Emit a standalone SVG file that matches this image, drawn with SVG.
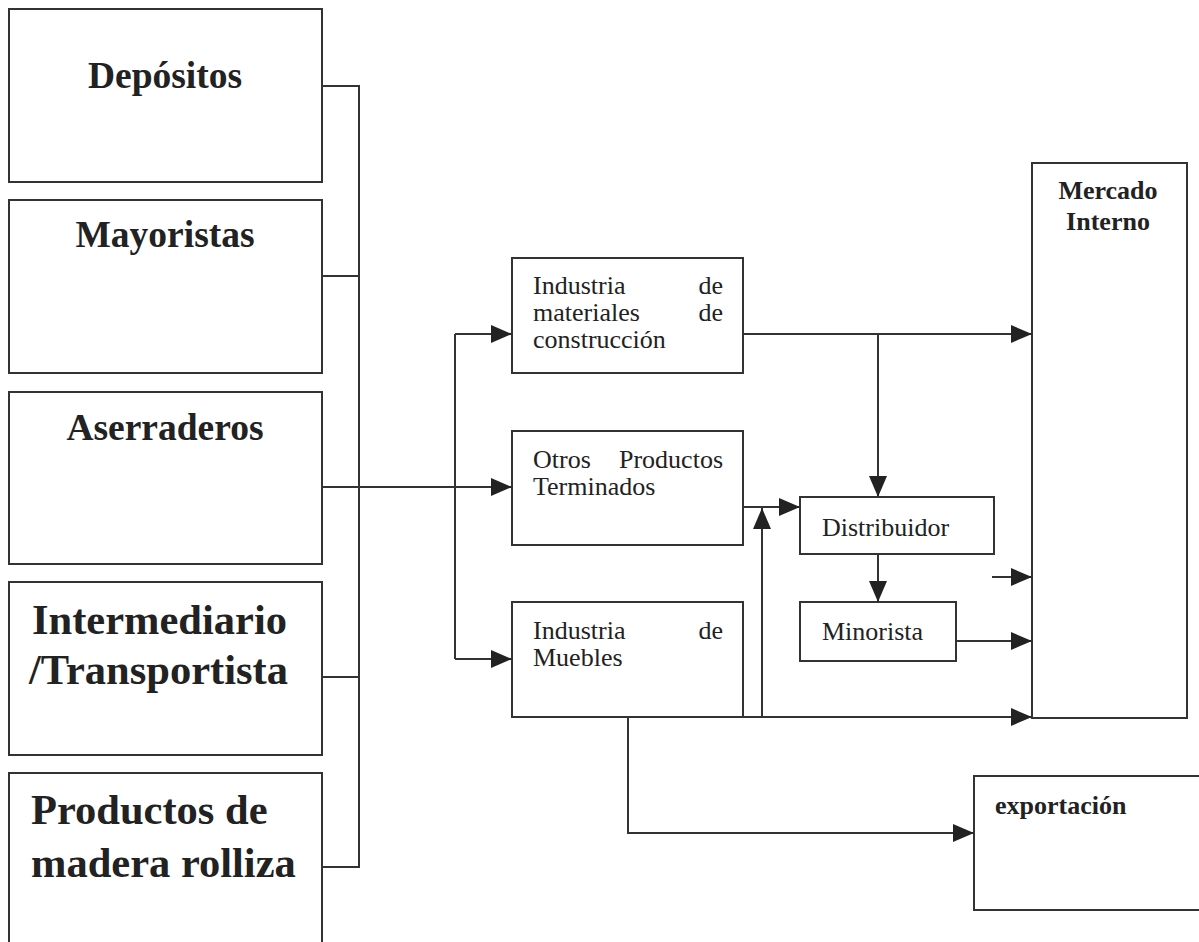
<svg xmlns="http://www.w3.org/2000/svg" width="1199" height="942" viewBox="0 0 1199 942">
<defs>
<style>
.box{fill:#fff;stroke:#333;stroke-width:2}
.ln{fill:none;stroke:#333;stroke-width:2}
.big{font-family:"Liberation Serif","Times New Roman",serif;font-weight:bold;fill:#222}
.reg{font-family:"Liberation Serif","Times New Roman",serif;font-size:26px;fill:#222}
.mid{font-family:"Liberation Serif","Times New Roman",serif;font-weight:bold;font-size:26px;fill:#222}
</style>
<marker id="ah" markerUnits="userSpaceOnUse" markerWidth="21" markerHeight="18" refX="21" refY="9" orient="auto">
<path d="M0,0 L21,9 L0,18 z" fill="#222"/>
</marker>
</defs>
<rect width="1199" height="942" fill="#fff"/>

<g id="depositos">
<rect class="box" x="9" y="9" width="313" height="173"/>
<text class="big" x="165" y="88" font-size="37.5" text-anchor="middle">Depósitos</text>
</g>
<g id="mayoristas">
<rect class="box" x="9" y="200" width="313" height="173"/>
<text class="big" x="165" y="247" font-size="37.5" text-anchor="middle">Mayoristas</text>
</g>
<g id="aserraderos">
<rect class="box" x="9" y="392" width="313" height="172"/>
<text class="big" x="165" y="440" font-size="37.5" text-anchor="middle">Aserraderos</text>
</g>
<g id="intermediario">
<rect class="box" x="9" y="582" width="313" height="173"/>
<text class="big" font-size="42.5"><tspan x="32" y="634">Intermediario</tspan><tspan x="29" y="684">/Transportista</tspan></text>
</g>
<g id="productos">
<rect class="box" x="9" y="773" width="313" height="180"/>
<text class="big" font-size="42.5"><tspan x="31" y="824">Productos de</tspan><tspan x="31" y="877">madera rolliza</tspan></text>
</g>

<g id="materiales">
<rect class="box" x="512" y="258" width="231" height="115"/>
<text class="reg"><tspan x="533" y="294">Industria</tspan><tspan x="723" y="294" text-anchor="end">de</tspan><tspan x="533" y="321">materiales</tspan><tspan x="723" y="321" text-anchor="end">de</tspan><tspan x="533" y="348">construcción</tspan></text>
</g>
<g id="otros">
<rect class="box" x="512" y="431" width="231" height="114"/>
<text class="reg"><tspan x="533" y="468">Otros</tspan><tspan x="723" y="468" text-anchor="end">Productos</tspan><tspan x="533" y="495">Terminados</tspan></text>
</g>
<g id="muebles">
<rect class="box" x="512" y="602" width="231" height="115"/>
<text class="reg"><tspan x="533" y="639">Industria</tspan><tspan x="723" y="639" text-anchor="end">de</tspan><tspan x="533" y="666">Muebles</tspan></text>
</g>
<g id="distribuidor">
<rect class="box" x="800" y="497" width="194" height="57"/>
<text class="reg" x="822" y="536" fill="#333">Distribuidor</text>
</g>
<g id="minorista">
<rect class="box" x="800" y="602" width="156" height="59"/>
<text class="reg" x="822" y="640" fill="#333">Minorista</text>
</g>
<g id="mercado">
<rect class="box" x="1032" y="163" width="155" height="555"/>
<text class="mid" text-anchor="middle"><tspan x="1108" y="199">Mercado</tspan><tspan x="1108" y="230">Interno</tspan></text>
</g>
<g id="exportacion">
<rect class="box" x="974" y="776" width="240" height="134"/>
<text class="mid" x="995" y="814">exportación</text>
</g>

<g id="connectors">
<path class="ln" d="M322,86 H359 V867 H322 M322,276 H359 M322,677 H359"/>
<path class="ln" d="M322,487 H512" marker-end="url(#ah)"/>
<path class="ln" d="M455,334 V659"/>
<path class="ln" d="M455,334 H512" marker-end="url(#ah)"/>
<path class="ln" d="M455,659 H512" marker-end="url(#ah)"/>
<path class="ln" d="M743,334 H1032" marker-end="url(#ah)"/>
<path class="ln" d="M878,334 V497" marker-end="url(#ah)"/>
<path class="ln" d="M743,507 H800" marker-end="url(#ah)"/>
<path class="ln" d="M762,717 V508" marker-end="url(#ah)"/>
<path class="ln" d="M878,554 V602" marker-end="url(#ah)"/>
<path class="ln" d="M992,577 H1032" marker-end="url(#ah)"/>
<path class="ln" d="M956,641 H1032" marker-end="url(#ah)"/>
<path class="ln" d="M743,717 H1032" marker-end="url(#ah)"/>
<path class="ln" d="M628,717 V833 H974" marker-end="url(#ah)"/>
</g>
</svg>
